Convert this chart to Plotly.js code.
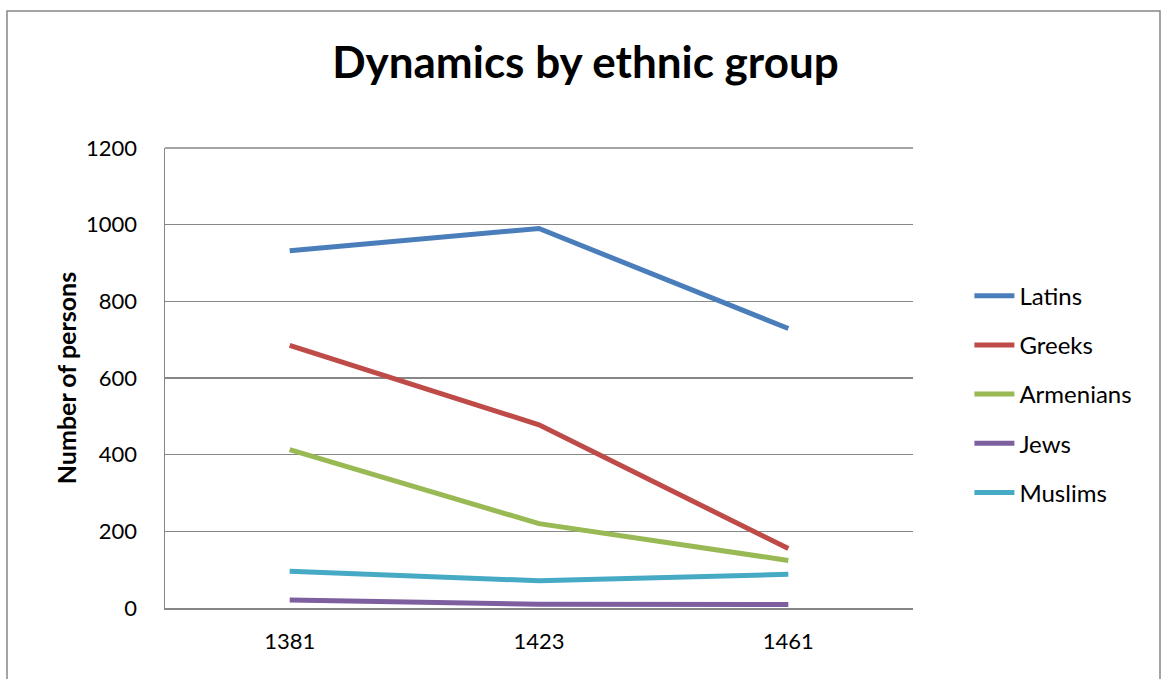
<!DOCTYPE html>
<html>
<head>
<meta charset="utf-8">
<script src="https://cdn.plot.ly/plotly-3.0.1.min.js"></script>
<style>html,body{margin:0;padding:0;background:#fff;}#chart{width:1164px;height:679px;}</style>
</head>
<body>
<div id="chart"></div>
<script>
const years = ["1381", "1423", "1461"];
const seriesNames = ["Latins", "Greeks", "Armenians", "Jews", "Muslims"];
const latins = [932, 990, 729];
const greeks = [685, 478, 155];
const armenians = [413, 220, 124];
const jews = [21, 10, 9];
const muslims = [96, 71, 88];
const yTicks = [0, 200, 400, 600, 800, 1000, 1200];

const values = [latins, greeks, armenians, jews, muslims];
const colors = ["#4A7EBB", "#BE4B48", "#98B954", "#7D5FA0", "#46AAC5"];
const font = "Lato, 'Open Sans', sans-serif";

const traces = seriesNames.map((name, i) => ({
  x: years,
  y: values[i],
  name: name,
  type: "scatter",
  mode: "lines",
  legendgroup: name,
  line: {color: colors[i], width: 5}
}));

const layout = {
  width: 1164,
  height: 679,
  margin: {l: 165, r: 251, t: 148, b: 71},
  paper_bgcolor: "#ffffff",
  plot_bgcolor: "#ffffff",
  title: {
    text: "<b>Dynamics by ethnic group</b>",
    font: {family: font, size: 44, color: "#000"},
    x: 0.503, xanchor: "center",
    y: 0.908, yanchor: "middle"
  },
  xaxis: {
    type: "category",
    range: [-0.5, 2.5],
    showgrid: false,
    showline: true,
    linecolor: "#868686",
    linewidth: 1.5,
    ticks: "",
    tickfont: {family: font, size: 22, color: "#000"},
    ticklabelstandoff: 13,
    fixedrange: true
  },
  yaxis: {
    range: [0, 1200],
    tickvals: yTicks,
    ticktext: yTicks.map(String),
    showgrid: true,
    gridcolor: "#868686",
    gridwidth: 1.5,
    showline: true,
    linecolor: "#868686",
    linewidth: 1.5,
    ticks: "",
    ticklabelstandoff: 22,
    zeroline: false,
    tickfont: {family: font, size: 22, color: "#000"},
    title: {
      text: "<b>Number of persons</b>",
      font: {family: font, size: 25, color: "#000"},
      standoff: 2
    }
  },
  legend: {
    x: 1.0754, xanchor: "left",
    y: 0.727, yanchor: "top",
    font: {family: font, size: 24, color: "#000"},
    tracegroupgap: 15,
    itemwidth: 40,
    bgcolor: "rgba(0,0,0,0)"
  },
  showlegend: true,
  shapes: [{
    type: "rect", xref: "paper", yref: "paper",
    x0: (7 - 165) / 748, x1: (1160 - 165) / 748,
    y0: -0.3, y1: (608 - 11) / 460,
    line: {color: "#868686", width: 1.5},
    fillcolor: "rgba(0,0,0,0)",
    layer: "below"
  }, {
    type: "line", xref: "paper", yref: "paper",
    x0: 0, x1: 1, y0: 1, y1: 1,
    line: {color: "#868686", width: 1.5},
    layer: "below"
  }]
};

Plotly.newPlot("chart", traces, layout, {displayModeBar: false, staticPlot: true});
</script>
</body>
</html>
